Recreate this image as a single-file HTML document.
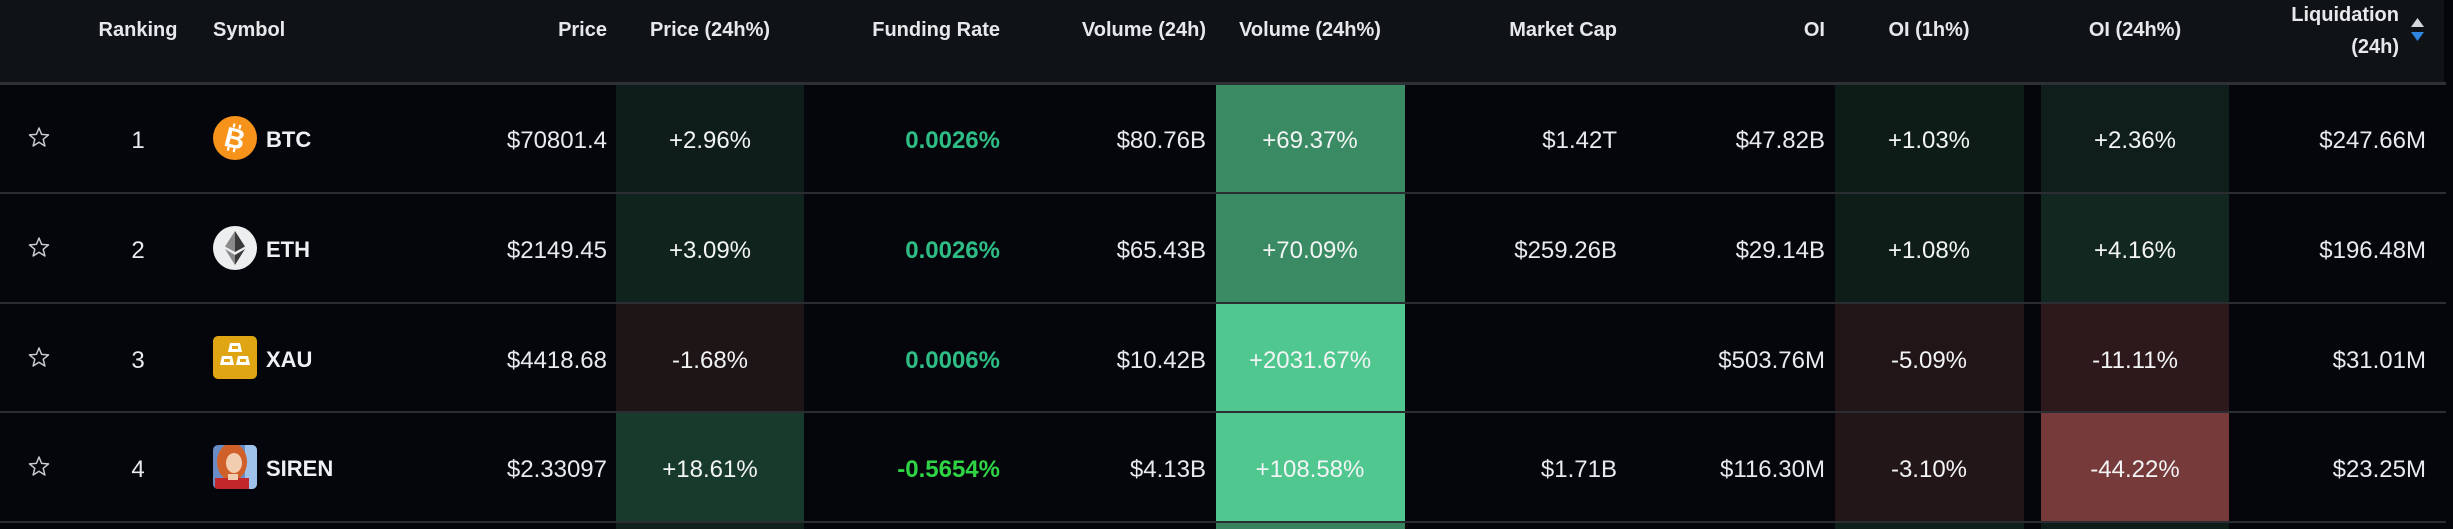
<!DOCTYPE html>
<html><head><meta charset="utf-8"><style>
html,body{margin:0;padding:0;background:#05060c;}
svg{display:block;}
text{font-family:"Liberation Sans",sans-serif;}
.h{font-size:20px;font-weight:700;fill:#e6e8eb;}
.v{font-size:24px;fill:#e8eaed;}
.p{font-size:24px;fill:#f3f4f5;}
.s{font-size:22px;font-weight:700;fill:#eef0f2;}
.f{font-size:24px;font-weight:700;fill:#2ebd85;}
</style></head><body>
<svg width="2453" height="529" viewBox="0 0 2453 529" xmlns="http://www.w3.org/2000/svg">
<rect x="0" y="0" width="2453" height="529" fill="#05060c"/>
<!-- header -->
<rect x="0" y="0" width="2444" height="83" fill="#101315"/>

<!-- colored cells row1 -->
<rect x="616" y="84" width="188" height="109" fill="#0e1d19"/>
<rect x="1216" y="84" width="189" height="109" fill="#3a8b63"/>
<rect x="1835" y="84" width="189" height="109" fill="#0e1c18"/>
<rect x="2041" y="84" width="188" height="109" fill="#0f1e1a"/>
<!-- row2 -->
<rect x="616" y="193" width="188" height="110" fill="#10241d"/>
<rect x="1216" y="193" width="189" height="110" fill="#3a8b63"/>
<rect x="1835" y="193" width="189" height="110" fill="#0f1d19"/>
<rect x="2041" y="193" width="188" height="110" fill="#12271f"/>
<!-- row3 -->
<rect x="616" y="303" width="188" height="109" fill="#1e1517"/>
<rect x="1216" y="303" width="189" height="109" fill="#4fc78e"/>
<rect x="1835" y="303" width="189" height="109" fill="#221517"/>
<rect x="2041" y="303" width="188" height="109" fill="#2d181b"/>
<!-- row4 -->
<rect x="616" y="412" width="188" height="110" fill="#183a2c"/>
<rect x="1216" y="412" width="189" height="110" fill="#4fc78e"/>
<rect x="1835" y="412" width="189" height="110" fill="#231618"/>
<rect x="2041" y="412" width="188" height="110" fill="#773a3a"/>
<!-- sliver -->
<rect x="616" y="522" width="188" height="7" fill="#10201b"/>
<rect x="1216" y="522" width="189" height="7" fill="#37835e"/>
<rect x="1835" y="522" width="189" height="7" fill="#0f1f1a"/>
<rect x="2041" y="522" width="188" height="7" fill="#0f1d19"/>

<!-- lines -->
<rect x="0" y="82" width="2446" height="3" fill="#2d3034"/>
<rect x="0" y="192" width="2446" height="2" fill="#2a2d31"/>
<rect x="0" y="302" width="2446" height="2" fill="#2a2d31"/>
<rect x="0" y="411" width="2446" height="2" fill="#2a2d31"/>
<rect x="0" y="521" width="2446" height="2" fill="#2a2d31"/>

<!-- header text -->
<text class="h" x="138" y="36" text-anchor="middle">Ranking</text>
<text class="h" x="213" y="36">Symbol</text>
<text class="h" x="607" y="36" text-anchor="end">Price</text>
<text class="h" x="710" y="36" text-anchor="middle">Price (24h%)</text>
<text class="h" x="1000" y="36" text-anchor="end">Funding Rate</text>
<text class="h" x="1206" y="36" text-anchor="end">Volume (24h)</text>
<text class="h" x="1310" y="36" text-anchor="middle">Volume (24h%)</text>
<text class="h" x="1617" y="36" text-anchor="end">Market Cap</text>
<text class="h" x="1825" y="36" text-anchor="end">OI</text>
<text class="h" x="1929" y="36" text-anchor="middle">OI (1h%)</text>
<text class="h" x="2135" y="36" text-anchor="middle">OI (24h%)</text>
<text class="h" x="2399" y="21" text-anchor="end">Liquidation</text>
<text class="h" x="2399" y="53" text-anchor="end">(24h)</text>
<polygon points="2411,27 2424,27 2417.5,18" fill="#d4d7db"/>
<polygon points="2411,32 2424,32 2417.5,41" fill="#2f86e0"/>

<!-- stars -->
<g fill="none" stroke="#c8cbcf" stroke-width="1.5" stroke-linejoin="round">
<polygon points="39,128 41.6,134.4 48.5,134.9 43.2,139.3 44.9,146 39,142.3 33.1,146 34.8,139.3 29.5,134.9 36.4,134.4"/>
<polygon points="39,238 41.6,244.4 48.5,244.9 43.2,249.3 44.9,256 39,252.3 33.1,256 34.8,249.3 29.5,244.9 36.4,244.4"/>
<polygon points="39,348 41.6,354.4 48.5,354.9 43.2,359.3 44.9,366 39,362.3 33.1,366 34.8,359.3 29.5,354.9 36.4,354.4"/>
<polygon points="39,457 41.6,463.4 48.5,463.9 43.2,468.3 44.9,475 39,471.3 33.1,475 34.8,468.3 29.5,463.9 36.4,463.4"/>
</g>

<!-- ranking -->
<text class="v" x="138" y="148" text-anchor="middle">1</text>
<text class="v" x="138" y="258" text-anchor="middle">2</text>
<text class="v" x="138" y="368" text-anchor="middle">3</text>
<text class="v" x="138" y="477" text-anchor="middle">4</text>

<!-- icons -->
<circle cx="235" cy="138" r="22" fill="#f7931a"/>
<g transform="rotate(14 235 138)">
<text x="235" y="148" text-anchor="middle" style="font-size:28px;font-weight:700;fill:#ffffff">B</text>
<rect x="230" y="124" width="2.2" height="4" fill="#fff"/><rect x="236" y="124" width="2.2" height="4" fill="#fff"/>
<rect x="230" y="148" width="2.2" height="4" fill="#fff"/><rect x="236" y="148" width="2.2" height="4" fill="#fff"/>
</g>
<circle cx="235" cy="248" r="22" fill="#eceef0"/>
<polygon points="235,231 235,252 225,246.5" fill="#8a8a8a"/>
<polygon points="235,231 245,246.5 235,252" fill="#3a3a3a"/>
<polygon points="225,249 235,255 235,265" fill="#8a8a8a"/>
<polygon points="245,249 235,265 235,255" fill="#3a3a3a"/>
<rect x="213" y="336" width="44" height="43" rx="5" fill="#dfa512"/>
<g fill="#ffffff">
<polygon points="230,343 240,343 242,352 228,352"/>
<polygon points="222,356 232,356 234,365 220,365"/>
<polygon points="238,356 248,356 250,365 236,365"/>
</g>
<g fill="#dfa512"><rect x="232" y="346" width="6" height="3"/><rect x="224" y="359" width="6" height="3"/><rect x="240" y="359" width="6" height="3"/></g>
<defs><clipPath id="sc"><rect x="213" y="445" width="44" height="44" rx="5"/></clipPath></defs>
<g clip-path="url(#sc)">
<rect x="213" y="445" width="44" height="44" fill="#6a8cc4"/>
<rect x="245" y="445" width="12" height="44" fill="#9fc2ea"/>
<ellipse cx="232" cy="462" rx="15" ry="19" fill="#d0602a"/>
<ellipse cx="234" cy="463" rx="8" ry="10" fill="#f3cdb0"/>
<rect x="215" y="478" width="34" height="12" fill="#c3272c"/>
<rect x="228" y="474" width="10" height="6" fill="#f3cdb0"/>
</g>

<!-- symbols -->
<text class="s" x="266" y="147">BTC</text>
<text class="s" x="266" y="257">ETH</text>
<text class="s" x="266" y="367">XAU</text>
<text class="s" x="266" y="476">SIREN</text>

<!-- price -->
<text class="v" x="607" y="148" text-anchor="end">$70801.4</text>
<text class="v" x="607" y="258" text-anchor="end">$2149.45</text>
<text class="v" x="607" y="368" text-anchor="end">$4418.68</text>
<text class="v" x="607" y="477" text-anchor="end">$2.33097</text>

<!-- price 24h% -->
<text class="p" x="710" y="148" text-anchor="middle">+2.96%</text>
<text class="p" x="710" y="258" text-anchor="middle">+3.09%</text>
<text class="p" x="710" y="368" text-anchor="middle">-1.68%</text>
<text class="p" x="710" y="477" text-anchor="middle">+18.61%</text>

<!-- funding -->
<text class="f" x="1000" y="148" text-anchor="end">0.0026%</text>
<text class="f" x="1000" y="258" text-anchor="end">0.0026%</text>
<text class="f" x="1000" y="368" text-anchor="end">0.0006%</text>
<text class="f" x="1000" y="477" text-anchor="end" style="fill:#2fd444">-0.5654%</text>

<!-- volume -->
<text class="v" x="1206" y="148" text-anchor="end">$80.76B</text>
<text class="v" x="1206" y="258" text-anchor="end">$65.43B</text>
<text class="v" x="1206" y="368" text-anchor="end">$10.42B</text>
<text class="v" x="1206" y="477" text-anchor="end">$4.13B</text>

<!-- volume 24h% -->
<text class="p" x="1310" y="148" text-anchor="middle">+69.37%</text>
<text class="p" x="1310" y="258" text-anchor="middle">+70.09%</text>
<text class="p" x="1310" y="368" text-anchor="middle">+2031.67%</text>
<text class="p" x="1310" y="477" text-anchor="middle">+108.58%</text>

<!-- market cap -->
<text class="v" x="1617" y="148" text-anchor="end">$1.42T</text>
<text class="v" x="1617" y="258" text-anchor="end">$259.26B</text>
<text class="v" x="1617" y="477" text-anchor="end">$1.71B</text>

<!-- OI -->
<text class="v" x="1825" y="148" text-anchor="end">$47.82B</text>
<text class="v" x="1825" y="258" text-anchor="end">$29.14B</text>
<text class="v" x="1825" y="368" text-anchor="end">$503.76M</text>
<text class="v" x="1825" y="477" text-anchor="end">$116.30M</text>

<!-- OI 1h% -->
<text class="p" x="1929" y="148" text-anchor="middle">+1.03%</text>
<text class="p" x="1929" y="258" text-anchor="middle">+1.08%</text>
<text class="p" x="1929" y="368" text-anchor="middle">-5.09%</text>
<text class="p" x="1929" y="477" text-anchor="middle">-3.10%</text>

<!-- OI 24h% -->
<text class="p" x="2135" y="148" text-anchor="middle">+2.36%</text>
<text class="p" x="2135" y="258" text-anchor="middle">+4.16%</text>
<text class="p" x="2135" y="368" text-anchor="middle">-11.11%</text>
<text class="p" x="2135" y="477" text-anchor="middle">-44.22%</text>

<!-- liquidation -->
<text class="v" x="2426" y="148" text-anchor="end">$247.66M</text>
<text class="v" x="2426" y="258" text-anchor="end">$196.48M</text>
<text class="v" x="2426" y="368" text-anchor="end">$31.01M</text>
<text class="v" x="2426" y="477" text-anchor="end">$23.25M</text>
</svg>
</body></html>
